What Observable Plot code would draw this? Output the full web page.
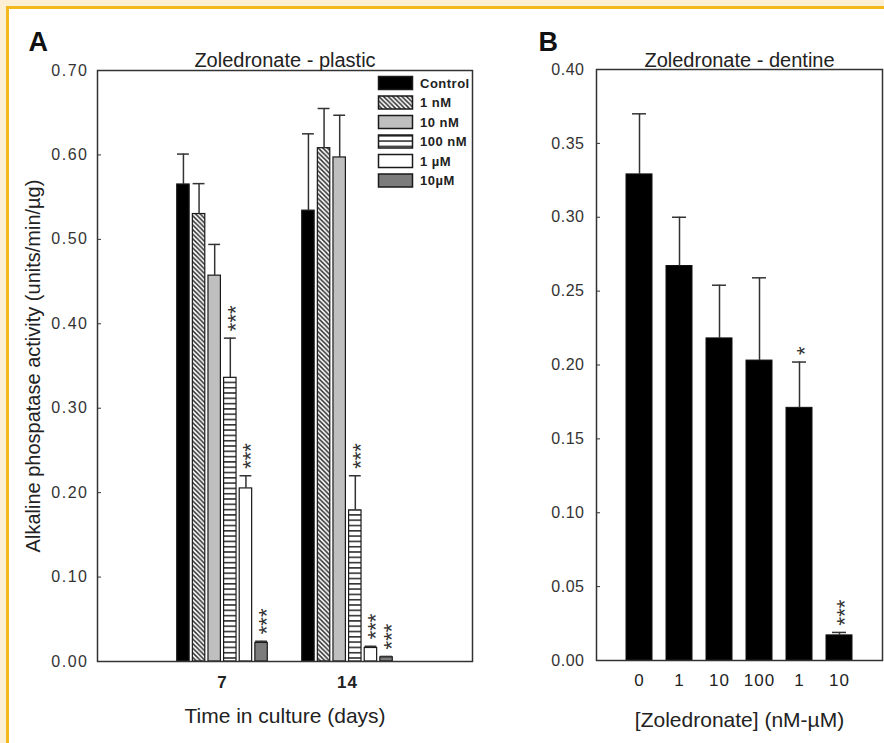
<!DOCTYPE html>
<html>
<head>
<meta charset="utf-8">
<script src="https://cdn.jsdelivr.net/npm/d3@7"></script>
<script src="https://cdn.jsdelivr.net/npm/@observablehq/plot@0.6"></script>
<style>
  body { margin: 0; background: #fff; }
  #page { position: relative; width: 884px; height: 743px; background: #fcefd4; overflow: hidden;
          font-family: "Liberation Sans", Arial, sans-serif; }
  #inner { position: absolute; left: 6px; top: 6px; width: 900px; height: 760px;
           border-left: 3px solid #f3b81b; border-top: 3px solid #f3b81b; background: #fff; }
  #panelA, #panelB, #legendA { position: absolute; top: 0; }
  #panelA { left: 0; width: 500px; }
  #panelB { left: 500px; width: 384px; }
  #legendA { left: 376px; top: 74px; }
</style>
</head>
<body>
<div id="page">
  <div id="inner"></div>
  <div id="panelA"></div>
  <div id="panelB"></div>
  <div id="legendA"></div>
</div>
<script>
// ---------------- data (panel A: plastic) ----------------
const days = ["7", "14"];
const treatments = ["Control", "1 nM", "10 nM", "100 nM", "1 µM", "10µM"];
const meanDay7  = [0.565, 0.530, 0.457, 0.336, 0.205, 0.022];
const semDay7   = [0.036, 0.036, 0.037, 0.047, 0.015, 0.002];
const sigDay7   = ["", "", "", "***", "***", "***"];
const meanDay14 = [0.534, 0.608, 0.597, 0.179, 0.016, 0.005];
const semDay14  = [0.091, 0.047, 0.050, 0.041, 0.002, 0.001];
const sigDay14  = ["", "", "", "***", "***", "***"];
const yTicksA   = [0, 0.1, 0.2, 0.3, 0.4, 0.5, 0.6, 0.7];

// ---------------- data (panel B: dentine) ----------------
const doses       = ["0", "1", "10", "100", "1", "10"];
const meanDentine = [0.329, 0.267, 0.218, 0.203, 0.171, 0.017];
const semDentine  = [0.041, 0.033, 0.036, 0.056, 0.031, 0.002];
const sigDentine  = ["", "", "", "", "*", "***"];
const yTicksB     = [0, 0.05, 0.10, 0.15, 0.20, 0.25, 0.30, 0.35, 0.40];

// ---------------- texts ----------------
const titleA = "Zoledronate - plastic";
const titleB = "Zoledronate - dentine";
const xLabelA = "Time in culture (days)";
const yLabelA = "Alkaline phospatase activity (units/min/µg)";
const xLabelB = "[Zoledronate] (nM-µM)";

// ---------------- styles ----------------
const font = '"Liberation Sans", Arial, sans-serif';
const treatmentFill = ["#000000", "url(#hatch1nM)", "#bfbfbf", "url(#stripe100nM)", "#ffffff", "#7c7c7c"];
const patternDefs = `
  <pattern id="hatch1nM" patternUnits="userSpaceOnUse" width="4.6" height="4.6">
    <rect width="4.6" height="4.6" fill="#ffffff"/>
    <path d="M-1,-1 L5.6,5.6 M-1,3.6 L1,5.6 M3.6,-1 L5.6,1" stroke="#333" stroke-width="1.5"/>
  </pattern>
  <pattern id="stripe100nM" patternUnits="userSpaceOnUse" width="10" height="5.3">
    <rect width="10" height="5.3" fill="#ffffff"/>
    <line x1="0" x2="10" y1="0.8" y2="0.8" stroke="#333" stroke-width="1.6"/>
  </pattern>`;

// ---------------- panel A ----------------
const groupSize = treatments.length + 2;
const groupCenters = days.map((_, g) => groupSize * (g + 1));
const meansA = [meanDay7, meanDay14], semsA = [semDay7, semDay14], sigsA = [sigDay7, sigDay14];
const rowsA = days.flatMap((day, g) => treatments.map((t, k) => {
  const x1 = groupCenters[g] - treatments.length / 2 + k;
  return {day, treatment: t, fill: treatmentFill[k], x1, x2: x1 + 1, xc: x1 + 0.5,
          mean: meansA[g][k], top: meansA[g][k] + semsA[g][k], sig: sigsA[g][k]};
}));

const plotA = Plot.plot({
  width: 500, height: 743,
  marginLeft: 97, marginRight: 28, marginTop: 70, marginBottom: 82,
  style: {background: "transparent", fontFamily: font, color: "#222", overflow: "visible"},
  x: {domain: [0, groupSize * (days.length + 1)]},
  y: {domain: [0, 0.7]},
  color: {type: "identity"},
  marks: [
    Plot.rectY(rowsA, {x1: "x1", x2: "x2", y: "mean", fill: "fill", stroke: "#1a1a1a", strokeWidth: 1.2, insetLeft: 1.6, insetRight: 1.6}),
    Plot.ruleX(rowsA, {x: "xc", y1: "mean", y2: "top", stroke: "#333", strokeWidth: 1.5}),
    Plot.ruleY(rowsA, {x1: d => d.xc - 0.38, x2: d => d.xc + 0.38, y: "top", stroke: "#333", strokeWidth: 1.5}),
    Plot.text(rowsA.filter(d => d.sig), {x: "xc", y: "top", text: "sig", rotate: -90, textAnchor: "start", lineAnchor: "middle",
      dy: -7, dx: 5.5, fontSize: 22, fill: "#333", ariaLabel: "stars"}),
    Plot.axisY({ticks: yTicksA, tickFormat: ".2f", tickSize: 0, tickPadding: 9, fontSize: 16, fill: "#333", label: null}),
    Plot.axisY({ticks: yTicksA, tickFormat: () => "", tickSize: 4, dx: 4, stroke: "#333", label: null}),
    Plot.axisX({ticks: groupCenters, tickFormat: d => days[groupCenters.indexOf(d)], tickSize: 0, tickPadding: 14,
      fontSize: 17, fontWeight: "bold", fill: "#222", label: null}),
    Plot.frame({stroke: "#333", strokeWidth: 1.5}),
    Plot.text([titleA], {text: d => d, frameAnchor: "top", lineAnchor: "middle", dy: -9.5, fontSize: 20, fill: "#222", ariaLabel: "title"}),
    Plot.text(["A"], {text: d => d, frameAnchor: "top-left", textAnchor: "start", lineAnchor: "middle", dx: -69, dy: -28, fontSize: 27, fontWeight: "bold", fill: "#111"}),
    Plot.text([xLabelA], {text: d => d, frameAnchor: "bottom", lineAnchor: "middle", dy: 55, fontSize: 21, fill: "#222", ariaLabel: "xlabel"}),
    Plot.text([yLabelA], {text: d => d, frameAnchor: "left", textAnchor: "middle", lineAnchor: "middle", rotate: -90, dx: -64, fontSize: 20, fill: "#222", ariaLabel: "ylabel"})
  ]
});

// ---------------- panel B ----------------
const rowsB = doses.map((dose, i) => ({i, dose, mean: meanDentine[i], top: meanDentine[i] + semDentine[i], sig: sigDentine[i]}));

const plotB = Plot.plot({
  width: 384, height: 743,
  marginLeft: 96, marginRight: 2, marginTop: 69, marginBottom: 83,
  style: {background: "transparent", fontFamily: font, color: "#222", overflow: "visible"},
  x: {type: "band", domain: rowsB.map(d => d.i), paddingInner: 0.36, paddingOuter: 0.68},
  y: {domain: [0, 0.4]},
  marks: [
    Plot.barY(rowsB, {x: "i", y: "mean", fill: "#000", stroke: "#111", strokeWidth: 1}),
    Plot.ruleX(rowsB, {x: "i", y1: "mean", y2: "top", stroke: "#333", strokeWidth: 1.5}),
    Plot.tickY(rowsB, {x: "i", y: "top", stroke: "#333", strokeWidth: 1.5, inset: 6}),
    Plot.text(rowsB.filter(d => d.sig), {x: "i", y: "top", text: "sig", rotate: -90, textAnchor: "start", lineAnchor: "middle",
      dy: -7, dx: 5.5, fontSize: 22, fill: "#333", ariaLabel: "stars"}),
    Plot.axisY({ticks: yTicksB, tickFormat: ".2f", tickSize: 0, tickPadding: 12, fontSize: 16, fill: "#333", label: null}),
    Plot.axisY({ticks: yTicksB, tickFormat: () => "", tickSize: 4, dx: 4, stroke: "#333", label: null}),
    Plot.axisX({tickFormat: i => doses[i], tickSize: 0, tickPadding: 13, fontSize: 17, fill: "#222", label: null}),
    Plot.frame({stroke: "#333", strokeWidth: 1.5}),
    Plot.text([titleB], {text: d => d, frameAnchor: "top", lineAnchor: "middle", dy: -9.2, fontSize: 20, fill: "#222", ariaLabel: "title"}),
    Plot.text(["B"], {text: d => d, frameAnchor: "top-left", textAnchor: "start", lineAnchor: "middle", dx: -58, dy: -27, fontSize: 27, fontWeight: "bold", fill: "#111"}),
    Plot.text([xLabelB], {text: d => d, frameAnchor: "bottom", lineAnchor: "middle", dy: 59.5, fontSize: 21, fill: "#222", ariaLabel: "xlabel"})
  ]
});

// patterns, letter spacing
const sA = d3.select(plotA);
sA.insert("defs", ":first-child").html(patternDefs);
function spacing(svg, label, ls) {
  svg.selectAll(`g[aria-label="${label}"] text`).attr("letter-spacing", ls).style("letter-spacing", ls);
}
for (const [svg, tickLs] of [[sA, "1.5px"], [d3.select(plotB), "0.5px"]]) {
  spacing(svg, "y-axis tick label", tickLs);
  spacing(svg, "x-axis tick label", "1px");
  spacing(svg, "title", "1.4px");
  spacing(svg, "xlabel", "0.5px");
  spacing(svg, "ylabel", "0.8px");
  spacing(svg, "stars", "1.5px");
}
document.getElementById("panelA").append(plotA);
document.getElementById("panelB").append(plotB);

// ---------------- legend (panel A) ----------------
const legend = d3.select("#legendA").append("svg")
  .attr("width", 110).attr("height", 125)
  .style("font-family", font).style("overflow", "visible");
const rows = legend.selectAll("g").data(treatments).join("g")
  .attr("transform", (d, i) => `translate(2.5, ${2.5 + i * 19.5})`);
rows.append("rect").attr("width", 34).attr("height", 13)
  .attr("fill", (d, i) => treatmentFill[i]).attr("stroke", "#1a1a1a").attr("stroke-width", 1.5);
rows.append("text").attr("x", 41.5).attr("y", 6.5).attr("dy", "0.35em")
  .attr("font-size", 13).attr("font-weight", "bold").attr("fill", "#222")
  .style("letter-spacing", "0.5px").text(d => d);
</script>
</body>
</html>
